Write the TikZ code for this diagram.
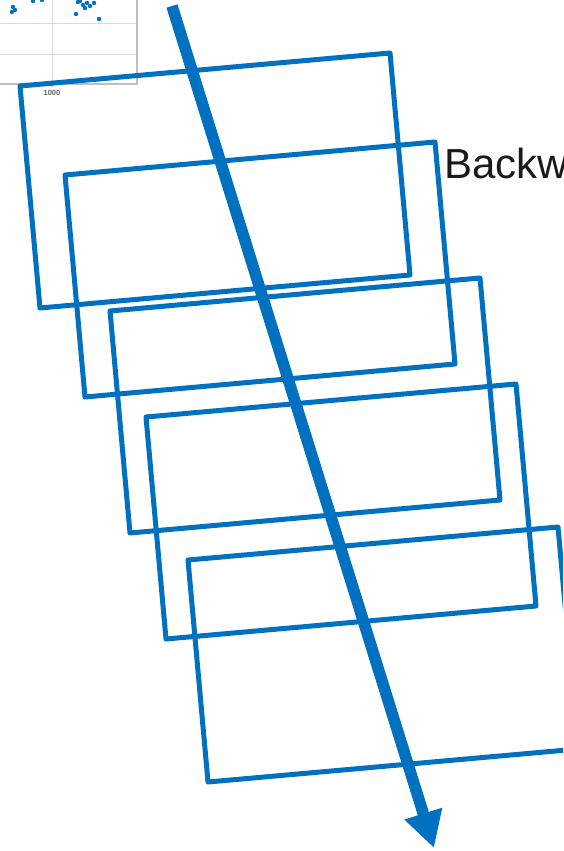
\documentclass[tikz,border=0pt]{standalone}
\usepackage{fontspec}
\setmainfont{Liberation Sans}
\usetikzlibrary{arrows.meta}
\definecolor{blu}{HTML}{0070C0}
\definecolor{gridc}{HTML}{D9D9D9}
\definecolor{axisc}{HTML}{BFBFBF}
\definecolor{txt}{HTML}{1A1A1A}
\tikzset{
  boxline/.style={draw=blu, line width=5pt, line join=round},
  grid line/.style={draw=gridc, line width=1pt},
  axis line/.style={draw=axisc, line width=1.3pt},
  dot/.style={fill=blu, draw=none},
  bigarrow/.style={draw=blu, line width=11.5pt, -{Triangle[length=36pt,width=37pt]}},
}
\begin{document}
\begin{tikzpicture}[x=1pt,y=-1pt]
\clip (0,0) rectangle (563,851);
\fill[white] (0,0) rectangle (563,851);
% chart fragment
\draw[grid line] (0,24) -- (137,24);
\draw[grid line] (0,55) -- (137,55);
\draw[grid line] (52,0) -- (52,84);
\draw[axis line] (137,0) -- (137,84) -- (0,84);
\draw[axis line] (52,84) -- (52,87);
\node[font=\fontsize{7.5}{8}\selectfont\bfseries, text=gray!75!black, inner sep=0pt] (lbl) at (52,93) {1000};
\foreach \p in {(13,7),(15,10),(12,12),(33,1),(42,0),(78,2),(83,5),(87,3),(94,3),(90,6),(76,14),(99,19),(80,1),(85,8)}
  \fill[dot] \p circle (2.2);
% rectangles
\foreach \x/\y in {20/86,65/175,110/311,146/417,188/560}
  \draw[boxline] (\x,\y) -- ++(370,-33) -- ++(20,222) -- ++(-370,33) -- cycle;
% text
\node[anchor=base west, inner sep=0pt, font=\fontsize{42}{48}\selectfont, text=txt] (bw) at (444,178) {Backw};
% arrow
\coordinate (as) at (172,6);
\coordinate (ae) at (434,848);
\draw[bigarrow] (as) -- (ae);
\end{tikzpicture}
\end{document}
